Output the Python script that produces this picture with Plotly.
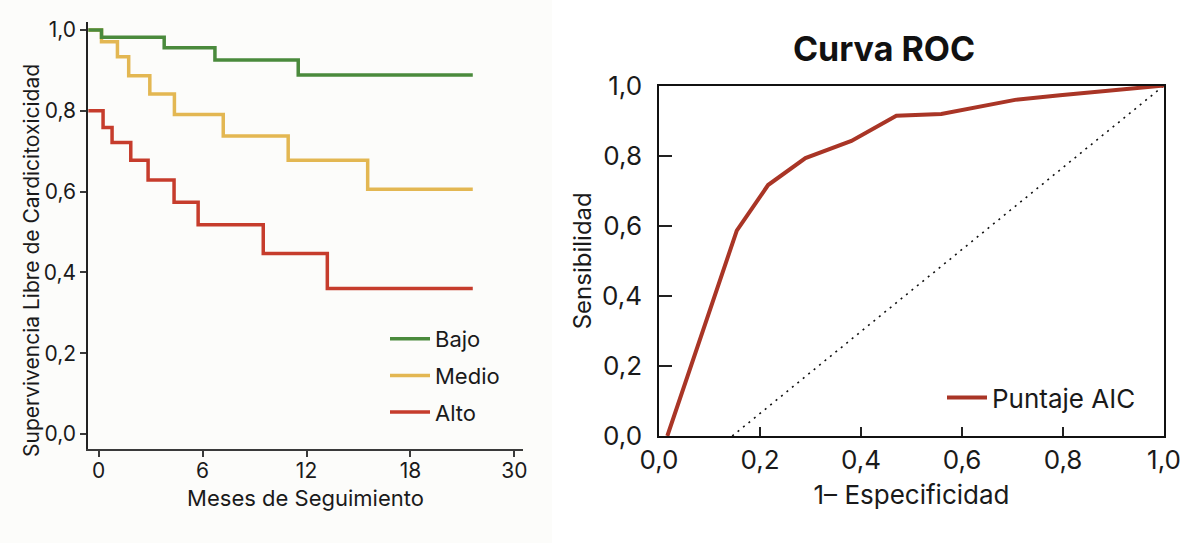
import plotly.graph_objects as go

# ---------------- data ----------------
# Kaplan-Meier (months, survival)
bajo_t = [-0.6, 0.16, 3.78, 6.71, 11.52, 21.6]
bajo_s = [1.0, 0.982, 0.956, 0.926, 0.889, 0.889]

medio_t = [-0.6, 0.16, 1.08, 1.73, 2.95, 4.37, 7.19, 10.94, 15.53, 21.6]
medio_s = [1.0, 0.971, 0.934, 0.887, 0.842, 0.791, 0.738, 0.678, 0.606, 0.606]

alto_t = [-0.6, 0.25, 0.77, 1.85, 2.85, 4.35, 5.74, 9.5, 13.2, 21.6]
alto_s = [0.80, 0.759, 0.722, 0.678, 0.629, 0.574, 0.518, 0.447, 0.36, 0.36]

km_tickvals = [0, 6, 12, 18, 24]
km_ticktext = ["0", "6", "12", "18", "30"]

# ROC curve
roc_fpr = [0.0165, 0.154, 0.216, 0.290, 0.381, 0.470, 0.559, 0.705, 0.794, 1.0]
roc_tpr = [0.0, 0.586, 0.716, 0.793, 0.842, 0.914, 0.919, 0.959, 0.972, 1.0]
ref_x = [0.145, 1.0]
ref_y = [0.0, 1.0]

FONT = "Inter"
W, H = 1200, 543

fig = go.Figure()

# ---------------- left: Kaplan-Meier ----------------
fig.add_trace(go.Scatter(x=alto_t, y=alto_s, mode="lines", name="Alto",
                         line=dict(color="#c63c2c", width=3.5, shape="hv"),
                         xaxis="x", yaxis="y", legend="legend", legendrank=3,
                         legendgroup="alto"))
fig.add_trace(go.Scatter(x=medio_t, y=medio_s, mode="lines", name="Medio",
                         line=dict(color="#e3b752", width=3.5, shape="hv"),
                         xaxis="x", yaxis="y", legend="legend", legendrank=2,
                         legendgroup="medio"))
fig.add_trace(go.Scatter(x=bajo_t, y=bajo_s, mode="lines", name="Bajo",
                         line=dict(color="#4a8a3c", width=3.5, shape="hv"),
                         xaxis="x", yaxis="y", legend="legend", legendrank=1,
                         legendgroup="bajo"))

# ---------------- right: ROC ----------------
fig.add_trace(go.Scatter(x=ref_x, y=ref_y, mode="lines", showlegend=False,
                         line=dict(color="#111111", width=1.6, dash="2px,5px"),
                         xaxis="x2", yaxis="y2"))
fig.add_trace(go.Scatter(x=roc_fpr, y=roc_tpr, mode="lines", name="Puntaje AIC",
                         line=dict(color="#a93526", width=4),
                         xaxis="x2", yaxis="y2", legend="legend2"))

def px_x(p):
    return p / W

def px_y(p):
    return 1 - p / H

fig.update_layout(
    width=W, height=H,
    margin=dict(l=0, r=0, t=0, b=0, autoexpand=False),
    paper_bgcolor="#ffffff",
    plot_bgcolor="rgba(0,0,0,0)",
    separators=",.",
    font=dict(family=FONT, color="#1a1a1a"),
    title=dict(text="<b>Curva ROC</b>", x=px_x(884), y=px_y(49),
               xanchor="center", yanchor="middle",
               font=dict(family=FONT, size=34, color="#111111")),
    shapes=[dict(type="rect", xref="paper", yref="paper", x0=0, x1=px_x(552),
                 y0=0, y1=1, fillcolor="#fcfcfa", line=dict(width=0), layer="below")],
    annotations=[dict(text="Supervivencia Libre de Cardicitoxicidad", textangle=-90,
                      xref="paper", yref="paper", x=px_x(31), y=px_y(261),
                      xanchor="center", yanchor="middle", showarrow=False,
                      font=dict(size=21, color="#1a1a1a"))],
    xaxis=dict(domain=[px_x(88), px_x(523)], range=[-0.62, 24.5], automargin=False,
               tickvals=km_tickvals, ticktext=km_ticktext,
               showline=True, linecolor="#3a3a3a", linewidth=2,
               ticks="outside", ticklen=6, tickwidth=1.5, tickcolor="#3a3a3a",
               showgrid=False, zeroline=False, ticklabelstandoff=-4,
               tickfont=dict(size=21, color="#1a1a1a"),
               title=dict(text="Meses de Seguimiento", font=dict(size=22, color="#1a1a1a"),
                          standoff=8),
               anchor="y"),
    yaxis=dict(domain=[px_y(449), px_y(22)], range=[-0.037, 1.02], automargin=False,
               tickvals=[0, 0.2, 0.4, 0.6, 0.8, 1.0], tickformat=".1f",
               showline=True, linecolor="#222222", linewidth=1.5,
               ticks="outside", ticklen=6, tickwidth=1.5, tickcolor="#3a3a3a",
               showgrid=False, zeroline=False,
               tickfont=dict(size=21, color="#1a1a1a"),
               anchor="x"),
    xaxis2=dict(domain=[px_x(659), px_x(1164)], range=[0, 1], automargin=False,
                tickvals=[0, 0.2, 0.4, 0.6, 0.8, 1.0], tickformat=".1f",
                showline=True, mirror=True, linecolor="#111111", linewidth=1.5,
                ticks="inside", ticklen=9, tickwidth=1.5, tickcolor="#222222",
                showgrid=False, zeroline=False,
                tickfont=dict(size=26, color="#1a1a1a"),
                title=dict(text="1– Especificidad", font=dict(size=26, color="#1a1a1a"),
                           standoff=12),
                anchor="y2"),
    yaxis2=dict(domain=[px_y(436), px_y(85.5)], range=[0, 1], automargin=False,
                tickvals=[0, 0.2, 0.4, 0.6, 0.8, 1.0], tickformat=".1f",
                showline=True, mirror=True, linecolor="#111111", linewidth=1.5,
                ticks="inside", ticklen=13, tickwidth=1.5, tickcolor="#222222",
                showgrid=False, zeroline=False, ticklabelstandoff=10,
                tickfont=dict(size=26, color="#1a1a1a"),
                title=dict(text="Sensibilidad", font=dict(size=24, color="#1a1a1a"),
                           standoff=4),
                anchor="x2"),
    legend=dict(x=px_x(385), y=px_y(318), xanchor="left", yanchor="top",
                bgcolor="rgba(0,0,0,0)", font=dict(size=22, color="#1a1a1a"),
                tracegroupgap=5, itemwidth=40),
    legend2=dict(x=px_x(942), y=px_y(374), xanchor="left", yanchor="top",
                 bgcolor="rgba(0,0,0,0)", font=dict(size=26, color="#1a1a1a"),
                 itemwidth=40),
)

fig.write_html("out.html")
